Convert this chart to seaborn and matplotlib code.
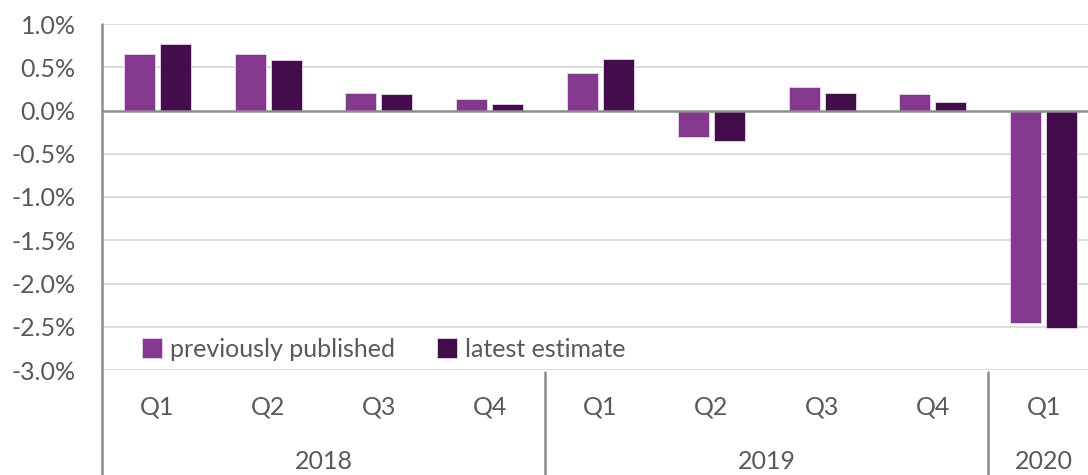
import matplotlib.pyplot as plt
import matplotlib.transforms as mtransforms
import pandas as pd
import seaborn as sns

years = ["2018", "2018", "2018", "2018", "2019", "2019", "2019", "2019", "2020"]
quarters = ["Q1", "Q2", "Q3", "Q4", "Q1", "Q2", "Q3", "Q4", "Q1"]
previously_published = [0.65, 0.65, 0.20, 0.13, 0.43, -0.31, 0.27, 0.19, -2.46]
latest_estimate = [0.77, 0.58, 0.19, 0.07, 0.59, -0.35, 0.20, 0.10, -2.51]
series_names = ["previously published", "latest estimate"]
y_ticks = [1.0, 0.5, 0.0, -0.5, -1.0, -1.5, -2.0, -2.5, -3.0]

sns.set_style("white")
plt.rcParams["font.family"] = ["Lato", "DejaVu Sans"]

periods = [f"{y} {q}" for y, q in zip(years, quarters)]
df = pd.DataFrame({
    "period": periods * 2,
    "value": previously_published + latest_estimate,
    "series": [series_names[0]] * len(periods) + [series_names[1]] * len(periods),
})

text_color = "#595959"
axis_color = "#8c8c8c"
grid_color = "#d9d9d9"
fs = 18

fig = plt.figure(figsize=(10.88, 4.75), dpi=100)
W, H = 1088, 475
ax = fig.add_axes([102 / W, (H - 370) / H, (1099 - 102) / W, (370 - 24) / H])

sns.barplot(
    data=df, x="period", y="value", hue="series", order=periods,
    palette=["#84398f", "#430d4b"], saturation=1, width=0.65, gap=0.14,
    edgecolor="#e8d8ea", linewidth=0.6, ax=ax,
)

ax.set_ylim(-3.0, 1.0)
ax.set_xlim(-0.5, len(periods) - 0.5)
ax.set_yticks(y_ticks)
ax.set_yticklabels([f"{t:.1f}%" for t in y_ticks], color=text_color, fontsize=fs)
for t in y_ticks:
    if t != 0:
        ax.axhline(t, color=grid_color, lw=1.3, zorder=0)
ax.axhline(0, color=axis_color, lw=1.8, zorder=3)

ax.set_xticks(range(len(periods)))
ax.set_xticklabels(quarters, color=text_color, fontsize=fs)
ax.tick_params(axis="x", length=0, pad=18)
ax.tick_params(axis="y", length=0, pad=19)
ax.set_xlabel("")
ax.set_ylabel("")
for s in ax.spines.values():
    s.set_visible(False)

# left axis line runs down through the category area
trans = mtransforms.blended_transform_factory(ax.transData, ax.transAxes)
ax.plot([-0.5, -0.5], [1, -0.31], transform=trans, color=axis_color, lw=1.8, clip_on=False)

# year group labels and separators
groups = []
for i, y in enumerate(years):
    if not groups or groups[-1][0] != y:
        groups.append([y, i, i])
    else:
        groups[-1][2] = i
for y, start, end in groups:
    ax.text((start + end) / 2, -0.265, y, transform=trans, ha="center", va="center",
            color=text_color, fontsize=fs)
    if start > 0:
        ax.plot([start - 0.5, start - 0.5], [-0.005, -0.31], transform=trans,
                color=axis_color, lw=1.8, clip_on=False)

ax.legend(
    loc="center left", bbox_to_anchor=(0.018, 0.06), ncol=2, frameon=False,
    fontsize=fs, handlelength=0.8, handleheight=0.8, handletextpad=0.3,
    columnspacing=1.7, labelcolor=text_color,
)

fig.savefig("out.png", dpi=100)
